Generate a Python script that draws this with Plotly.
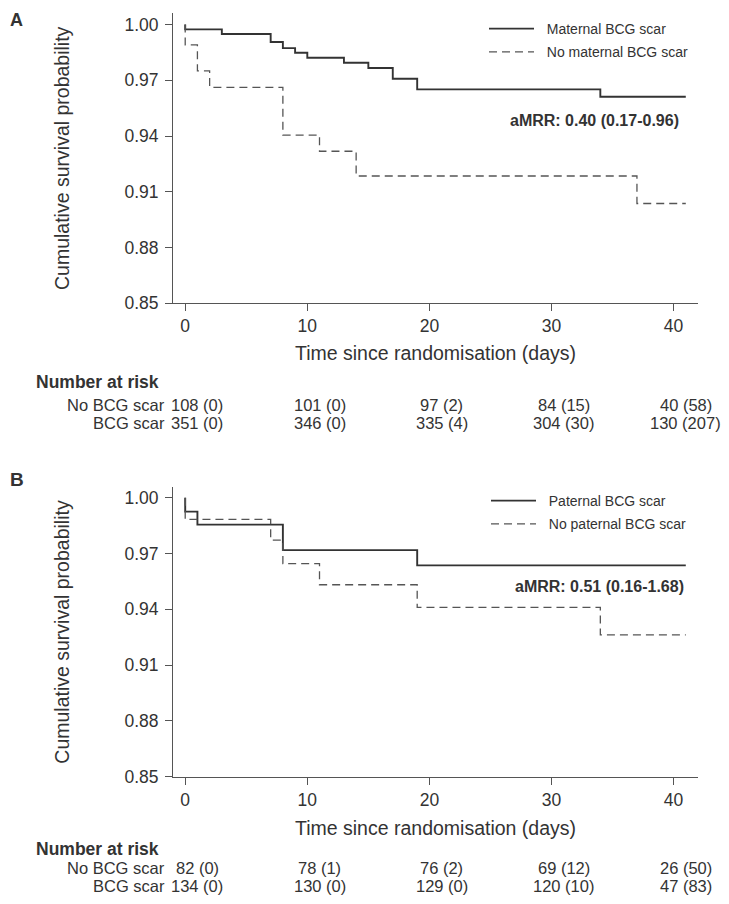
import plotly.graph_objects as go

# ---------------- data ----------------
# Panel A: maternal BCG scar
mat_scar_days = [0, 0, 3, 7, 8, 9, 10, 13, 15, 17, 19, 34, 41]
mat_scar_surv = [1.0, 0.9974, 0.9949, 0.9906, 0.9873, 0.9848, 0.9821, 0.9794, 0.9766, 0.9708, 0.9651, 0.9611, 0.9611]
mat_noscar_days = [0, 0, 1, 2, 8, 11, 14, 37, 41]
mat_noscar_surv = [1.0, 0.9890, 0.9751, 0.9662, 0.9405, 0.9318, 0.9185, 0.9037, 0.9037]

# Panel B: paternal BCG scar
pat_scar_days = [0, 0, 1, 8, 19, 41]
pat_scar_surv = [1.0, 0.9925, 0.9855, 0.9718, 0.9636, 0.9636]
pat_noscar_days = [0, 0, 7, 8, 11, 19, 34, 41]
pat_noscar_surv = [1.0, 0.9883, 0.9772, 0.9645, 0.9532, 0.9410, 0.9262, 0.9262]

x_ticks = [0, 10, 20, 30, 40]
y_ticks = [0.85, 0.88, 0.91, 0.94, 0.97, 1.00]
y_tick_labels = ["0.85", "0.88", "0.91", "0.94", "0.97", "1.00"]

risk_times = [0, 10, 20, 30, 40]
risk_A_no = ["108 (0)", "101 (0)", "97 (2)", "84 (15)", "40 (58)"]
risk_A_yes = ["351 (0)", "346 (0)", "335 (4)", "304 (30)", "130 (207)"]
risk_B_no = ["82 (0)", "78 (1)", "76 (2)", "69 (12)", "26 (50)"]
risk_B_yes = ["134 (0)", "130 (0)", "129 (0)", "120 (10)", "47 (83)"]
risk_row_labels = ["No BCG scar", "BCG scar"]

aMRR_A = "aMRR: 0.40 (0.17-0.96)"
aMRR_B = "aMRR: 0.51 (0.16-1.68)"

# ---------------- helpers ----------------
# page body has an 8px margin: figure origin sits at screen (8, 8)
OFF = 8
W, H = 729 - OFF, 904 - OFF
def px(x):
    return (x - OFF) / W
def py(y):
    return 1 - (y - OFF) / H

FONT = "Liberation Sans, Arial, Helvetica, sans-serif"
TXT = "#333333"
AX = "#555555"
SOLID = dict(color="#333333", width=1.9, shape="hv")
DASHED = dict(color="#555555", width=1.3, dash="8px,5px", shape="hv")
PAD = "\u00a0\u00a0"  # small gap between legend sample and label

fig = go.Figure()
fig.add_trace(go.Scatter(x=mat_scar_days, y=mat_scar_surv, mode="lines", line=SOLID,
                         name=PAD + "Maternal BCG scar", xaxis="x", yaxis="y", legend="legend",
                         legendgroup="a1"))
fig.add_trace(go.Scatter(x=mat_noscar_days, y=mat_noscar_surv, mode="lines", line=DASHED,
                         name=PAD + "No maternal BCG scar", xaxis="x", yaxis="y", legend="legend",
                         legendgroup="a2"))
fig.add_trace(go.Scatter(x=pat_scar_days, y=pat_scar_surv, mode="lines", line=SOLID,
                         name=PAD + "Paternal BCG scar", xaxis="x2", yaxis="y2", legend="legend2",
                         legendgroup="b1"))
fig.add_trace(go.Scatter(x=pat_noscar_days, y=pat_noscar_surv, mode="lines", line=DASHED,
                         name=PAD + "No paternal BCG scar", xaxis="x2", yaxis="y2", legend="legend2",
                         legendgroup="b2"))

xdom = [px(173), px(698)]
common_x = dict(range=[-1, 42], tickvals=x_ticks, ticks="outside", ticklen=7, tickcolor=AX,
                showline=True, linecolor=AX, linewidth=1, showgrid=False, zeroline=False,
                tickfont=dict(size=17.5, color=TXT, family=FONT), automargin=False, fixedrange=True)
common_y = dict(tickvals=y_ticks, ticktext=y_tick_labels, ticks="outside", ticklen=7, tickcolor=AX,
                showline=True, linecolor=AX, linewidth=1, showgrid=False, zeroline=False,
                ticklabelstandoff=3,
                tickfont=dict(size=17.5, color=TXT, family=FONT), automargin=False, fixedrange=True)

legend_common = dict(font=dict(size=14, color=TXT, family=FONT), bgcolor="rgba(0,0,0,0)",
                     borderwidth=0, xanchor="left", yanchor="top", itemwidth=45,
                     traceorder="grouped", tracegroupgap=2)

fig.update_layout(
    width=W, height=H,
    margin=dict(l=0, r=0, t=0, b=0),
    paper_bgcolor="white", plot_bgcolor="white",
    font=dict(family=FONT, color=TXT),
    xaxis=dict(domain=xdom, anchor="y", **common_x),
    yaxis=dict(domain=[py(303.3), py(13)], range=[0.85, 1.0062], anchor="x", **common_y),
    xaxis2=dict(domain=xdom, anchor="y2", **common_x),
    yaxis2=dict(domain=[py(776.7), py(486.7)], range=[0.85, 1.0059], anchor="x2", **common_y),
    legend=dict(x=px(484), y=py(13), **legend_common),
    legend2=dict(x=px(486), y=py(485), **legend_common),
)

ann = []
def txt(text, x, y, size, bold=False, xanchor="center", xref="paper", angle=0, yanchor="middle"):
    ann.append(dict(text=f"<b>{text}</b>" if bold else text, x=x, y=y, xref=xref, yref="paper",
                    xanchor=xanchor, yanchor=yanchor, showarrow=False, textangle=angle,
                    font=dict(size=size, color=TXT, family=FONT)))

# panel letters
txt("A", px(8), 1.0, 18, bold=True, xanchor="left", yanchor="top")
txt("B", px(8), py(479.5), 19, bold=True, xanchor="left")
# axis titles
for yc in (158, 631.7):
    txt("Cumulative survival probability", px(62), py(yc), 19.5, angle=-90)
txt("Time since randomisation (days)", px(435.5), py(353), 19.5)
txt("Time since randomisation (days)", px(435.5), py(828), 19.5)
# aMRR
txt(aMRR_A, px(681), py(120.7), 16, bold=True, xanchor="right")
txt(aMRR_B, px(686), py(586), 16, bold=True, xanchor="right")

# number at risk tables
tables = [
    ("x", 382, 405, 423, risk_A_no, risk_A_yes),
    ("x2", 849, 868, 886, risk_B_no, risk_B_yes),
]
for xref, y_head, y_r1, y_r2, row_no, row_yes in tables:
    txt("Number at risk", px(34), py(y_head), 17.5, bold=True, xanchor="left")
    txt(risk_row_labels[0], px(167), py(y_r1), 16.5, xanchor="right")
    txt(risk_row_labels[1], px(167), py(y_r2), 16.5, xanchor="right")
    for t, a, b in zip(risk_times, row_no, row_yes):
        txt(a, t + 1, py(y_r1), 16.5, xref=xref)
        txt(b, t + 1, py(y_r2), 16.5, xref=xref)

fig.update_layout(annotations=ann)
fig.write_html("out.html")
